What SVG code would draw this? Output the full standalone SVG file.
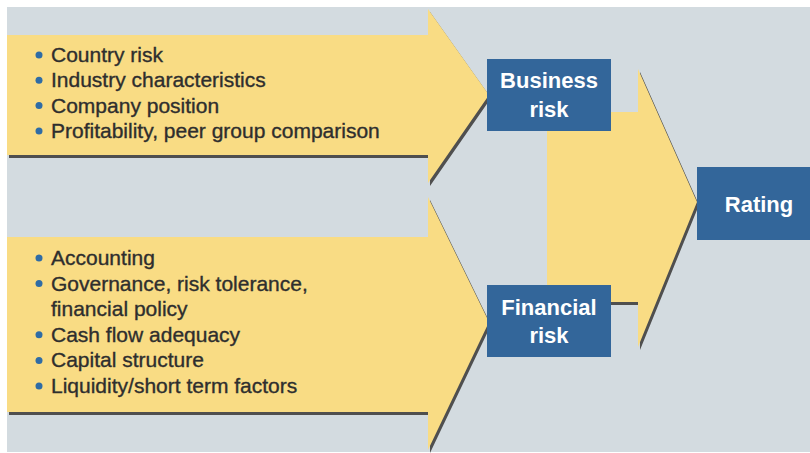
<svg xmlns="http://www.w3.org/2000/svg" xmlns:xlink="http://www.w3.org/1999/xlink" width="810" height="453" viewBox="0 0 810 453">
  <style>
    .arrow { fill: #f9dc84; }
    .shadow { fill: #4f4f4f; }
    .box { fill: #33669a; }
    .item { font-family: "Liberation Sans", Arial, sans-serif; font-size: 21px; fill: #2e2e2e; stroke: #2e2e2e; stroke-width: 0.35px; }
    .label { font-family: "Liberation Sans", Arial, sans-serif; font-size: 22px; font-weight: bold; fill: #ffffff; text-anchor: middle; }
    .dot { fill: #2f6ca5; }
  </style>
  <defs>
    <filter id="soft" x="-5%" y="-5%" width="110%" height="110%">
      <feGaussianBlur stdDeviation="0.6"/>
    </filter>
    <polygon id="arrowTop" points="7,35 428,35 428,9 489,95 428,183 428,155 7,155"/>
    <polygon id="arrowBottom" points="7,237 428,237 428,197 489,322 428,450 428,412 7,412"/>
    <polygon id="arrowMid" points="547,112 638,112 638,69 697,202 638,347 638,302 547,302"/>
  </defs>

  <rect x="0" y="0" width="810" height="453" fill="#ffffff"/>
  <rect x="7" y="7" width="803" height="445" fill="#d3dbe0"/>

  <g id="business-factors">
    <use xlink:href="#arrowTop" href="#arrowTop" class="shadow" transform="translate(2,3)" filter="url(#soft)"/>
    <use xlink:href="#arrowTop" href="#arrowTop" class="arrow"/>
    <circle class="dot" cx="39" cy="55" r="3.5"/>
    <circle class="dot" cx="39" cy="80.3" r="3.5"/>
    <circle class="dot" cx="39" cy="105.6" r="3.5"/>
    <circle class="dot" cx="39" cy="130.9" r="3.5"/>
    <text class="item" x="51" y="62">Country risk</text>
    <text class="item" x="51" y="87.3">Industry characteristics</text>
    <text class="item" x="51" y="112.6">Company position</text>
    <text class="item" x="51" y="137.9">Profitability, peer group comparison</text>
  </g>

  <g id="financial-factors">
    <use xlink:href="#arrowBottom" href="#arrowBottom" class="shadow" transform="translate(2,3)" filter="url(#soft)"/>
    <use xlink:href="#arrowBottom" href="#arrowBottom" class="arrow"/>
    <circle class="dot" cx="39" cy="258" r="3.5"/>
    <circle class="dot" cx="39" cy="283.6" r="3.5"/>
    <circle class="dot" cx="39" cy="334.8" r="3.5"/>
    <circle class="dot" cx="39" cy="360.4" r="3.5"/>
    <circle class="dot" cx="39" cy="386" r="3.5"/>
    <text class="item" x="51" y="265">Accounting</text>
    <text class="item" x="51" y="290.6">Governance, risk tolerance,</text>
    <text class="item" x="51" y="316.2">financial policy</text>
    <text class="item" x="51" y="341.8">Cash flow adequacy</text>
    <text class="item" x="51" y="367.4">Capital structure</text>
    <text class="item" x="51" y="393">Liquidity/short term factors</text>
  </g>

  <g id="connectors">
    <use xlink:href="#arrowMid" href="#arrowMid" class="shadow" transform="translate(2,3)" filter="url(#soft)"/>
    <use xlink:href="#arrowMid" href="#arrowMid" class="arrow"/>
  </g>

  <g id="business-risk">
    <rect class="box" x="487" y="59" width="124" height="72"/>
    <text class="label" x="549" y="87.5">Business</text>
    <text class="label" x="549" y="116.5">risk</text>
  </g>

  <g id="financial-risk">
    <rect class="box" x="487" y="285" width="124" height="72"/>
    <text class="label" x="549" y="315">Financial</text>
    <text class="label" x="549" y="343">risk</text>
  </g>

  <g id="rating">
    <rect class="box" x="697" y="167" width="113" height="73"/>
    <text class="label" x="759" y="211.5">Rating</text>
  </g>
</svg>
